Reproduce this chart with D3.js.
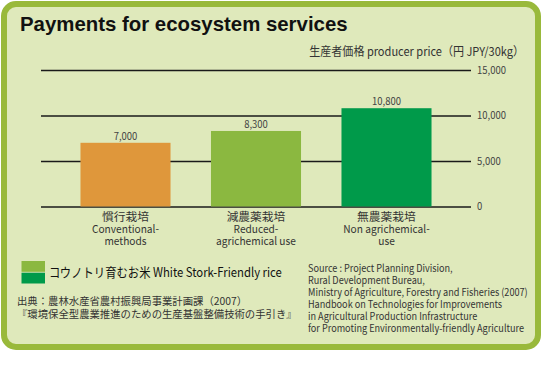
<!DOCTYPE html>
<html><head><meta charset="utf-8">
<script src="https://cdn.jsdelivr.net/npm/d3@7"></script>
<style>
html,body{margin:0;padding:0;background:#fff;}
svg{display:block;}
</style></head>
<body>
<script>
// ---- data ----
const categoriesJa = ["慣行栽培", "減農薬栽培", "無農薬栽培"];
const categoriesEn = [["Conventional-", "methods"], ["Reduced-", "agrichemical use"], ["Non agrichemical-", "use"]];
const prices = [7000, 8300, 10800];
const priceLabels = ["7,000", "8,300", "10,800"];
const barColors = ["#df973b", "#8bb840", "#009a4a"];
const yTicks = [0, 5000, 10000, 15000];
const title = "Payments for ecosystem services";
const axisTitle = "生産者価格 producer price（円 JPY/30kg）";
const legendLabel = "コウノトリ育むお米 White Stork-Friendly rice";
const legendColors = ["#8bb840", "#009a4a"];
const sourceJa = ["出典：農林水産省農村振興局事業計画課（2007）", "『環境保全型農業推進のための生産基盤整備技術の手引き』"];
const sourceEn = ["Source : Project Planning Division,", "Rural Development Bureau,", "Ministry of Agriculture, Forestry and Fisheries (2007)", "Handbook on Technologies for Improvements", "in Agricultural Production Infrastructure", "for Promoting Environmentally-friendly Agriculture"];

// ---- layout ----
const W = 542, H = 380;
const FONT = "'Noto Sans CJK JP','Noto Sans',sans-serif";
const svg = d3.select("body").append("svg").attr("width", W).attr("height", H);

svg.append("rect").attr("x", 4).attr("y", 4).attr("width", 534).attr("height", 343)
  .attr("rx", 12).attr("fill", "#dfe9bb").attr("stroke", "#99b93b").attr("stroke-width", 6);

// horizontally condense a group of texts (around each text's anchor) by the ratio
// that makes a reference text reach a target width
function fitGroup(sel, refNode, target) {
  const k = target / refNode.getComputedTextLength();
  sel.each(function () {
    const t = d3.select(this);
    const x0 = +t.attr("x") || 0;
    const prev = t.attr("transform") || "";
    t.attr("transform", `${prev} translate(${x0},0) scale(${k},1) translate(${-x0},0)`);
  });
}
function fitSpans(sel, refNode, target) {
  const k = target / refNode.getComputedTextLength();
  sel.each(function () {
    d3.select(this).attr("textLength", this.getComputedTextLength() * k).attr("lengthAdjust", "spacingAndGlyphs");
  });
}

svg.append("text").attr("x", 20).attr("y", 31).text(title)
  .attr("font-family", "'Liberation Sans',Arial,sans-serif").attr("font-weight", "bold")
  .attr("font-size", 20.4).attr("fill", "#111");

const y = d3.scaleLinear().domain([0, 15000]).range([206.5, 70]);
const x = d3.scaleBand().domain(d3.range(prices.length)).range([41, 471])
  .paddingInner(0.31).paddingOuter(0.3025);

// gridlines + tick labels via axis
const axis = d3.axisRight(y).tickValues(yTicks).tickSize(430).tickPadding(6)
  .tickFormat(d3.format(","));
const gAxis = svg.append("g").attr("transform", "translate(41,0)").call(axis);
gAxis.select(".domain").remove();
gAxis.selectAll(".tick line").attr("stroke", "#1a1a1a").attr("stroke-width", 1.4);
const tickTexts = gAxis.selectAll(".tick text").attr("font-family", FONT).attr("font-size", 10.5).attr("fill", "#444");

// bars
svg.append("g").selectAll("rect").data(prices).join("rect")
  .attr("x", (d, i) => x(i)).attr("width", x.bandwidth())
  .attr("y", d => y(d)).attr("height", d => y(0) - y(d))
  .attr("fill", (d, i) => barColors[i]);

// value labels
const valTexts = svg.append("g").selectAll("text").data(prices).join("text")
  .attr("x", (d, i) => x(i) + x.bandwidth() / 2).attr("y", d => y(d) - 3)
  .attr("text-anchor", "middle").attr("font-family", FONT).attr("font-size", 10.5)
  .attr("fill", "#444").text((d, i) => priceLabels[i]);
fitGroup(tickTexts, tickTexts.nodes()[3], 29);
fitGroup(valTexts, valTexts.nodes()[2], 29);

// category labels: one text element per category, lines as tspans
const catText = svg.append("g").selectAll("text").data(prices).join("text")
  .attr("text-anchor", "middle").attr("font-family", FONT).attr("font-size", 11).attr("fill", "#333");
catText.each(function (d, i) {
  const cx = x(i) + x.bandwidth() / 2;
  const t = d3.select(this);
  t.append("tspan").attr("class", "ja").attr("x", cx).attr("y", 220.5).text(categoriesJa[i]);
  categoriesEn[i].forEach((line, j) => {
    t.append("tspan").attr("class", "en").attr("x", cx).attr("y", 233 + j * 12.3).text(line);
  });
});
const jaSpans = svg.selectAll("tspan.ja");
fitSpans(jaSpans, jaSpans.nodes()[0], 47);
const enSpans = svg.selectAll("tspan.en");
fitSpans(enSpans, enSpans.nodes()[0], 67);

// axis title
const at = svg.append("text").attr("x", 524).attr("y", 56).attr("text-anchor", "end")
  .attr("font-family", FONT).attr("font-size", 12).attr("fill", "#333").text(axisTitle);
fitGroup(at, at.node(), 215);

// legend
svg.append("g").selectAll("rect").data(legendColors).join("rect")
  .attr("x", 21.5).attr("y", (d, i) => 261 + i * 11.7).attr("width", 23.5).attr("height", 10.8)
  .attr("fill", d => d);
const lt = svg.append("text").attr("x", 49).attr("y", 277).attr("font-family", FONT)
  .attr("font-size", 13).attr("fill", "#111").text(legendLabel);
fitGroup(lt, lt.node(), 233);

// sources
const sj = svg.append("g").selectAll("text").data(sourceJa).join("text")
  .attr("x", 17).attr("y", (d, i) => 305 + i * 12.8).attr("font-family", FONT)
  .attr("font-size", 10.5).attr("fill", "#333").text(d => d);
fitGroup(sj, sj.nodes()[1], 280);
const se = svg.append("g").selectAll("text").data(sourceEn).join("text")
  .attr("x", 308).attr("y", (d, i) => 272 + i * 12).attr("font-family", FONT)
  .attr("font-size", 10.4).attr("fill", "#333").text(d => d);
fitGroup(se, se.nodes()[2], 220);
</script>
</body></html>
